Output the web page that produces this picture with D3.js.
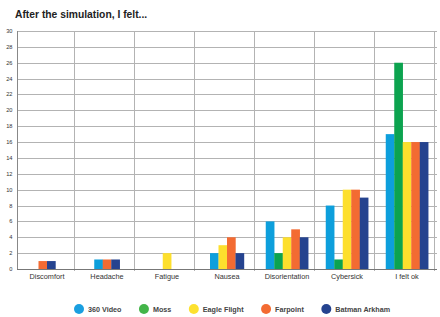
<!DOCTYPE html>
<html>
<head>
<meta charset="utf-8">
<script src="https://cdnjs.cloudflare.com/ajax/libs/d3/7.8.5/d3.min.js"></script>
<style>
  body { margin: 0; background: #fff; }
  svg { display: block; font-family: "Liberation Sans", Arial, sans-serif; }
</style>
</head>
<body>
<svg id="chart"></svg>
<script>
// symptoms reported after each VR experience
const categories = ['Discomfort', 'Headache', 'Fatigue', 'Nausea', 'Disorientation', 'Cybersick', 'I felt ok'];
const seriesNames = ['360 Video', 'Moss', 'Eagle Flight', 'Farpoint', 'Batman Arkham'];
const colors = ['#0d9fdc', '#0ca34f', '#fddf2d', '#f36b32', '#25438f'];
const legendColors = ['#1a9fe0', '#43b549', '#fde12f', '#f36b32', '#25438f'];

const video360 = [0, 1.2, 0, 2, 6, 8, 17];
const moss = [0, 0, 0, 0, 2, 1.2, 26];
const eagleFlight = [0, 0, 2, 3, 4, 10, 16];
const farpoint = [1, 1.2, 0, 4, 5, 10, 16];
const batman = [1, 1.2, 0, 2, 4, 9, 16];
const seriesValues = [video360, moss, eagleFlight, farpoint, batman];

const yTicks = d3.range(0, 31, 2);
const title = 'After the simulation, I felt...';

const width = 440, height = 317;
const margin = { top: 31, right: 3, bottom: 48, left: 17 };
const innerBottom = height - margin.bottom;

const svg = d3.select('#chart').attr('width', width).attr('height', height);

const x = d3.scaleBand()
    .domain(categories)
    .range([margin.left, width - margin.right])
    .padding(0);

const y = d3.scaleLinear()
    .domain([0, 30])
    .range([innerBottom, margin.top]);

// title
svg.append('text')
    .attr('x', 15)
    .attr('y', 17.5)
    .style('font-size', '10.3px')
    .style('font-weight', 'bold')
    .attr('fill', '#222')
    .text(title);

// horizontal grid
svg.append('g')
    .selectAll('line')
    .data(yTicks.filter(d => d > 0))
    .join('line')
    .attr('x1', margin.left)
    .attr('x2', width - margin.right)
    .attr('y1', d => Math.round(y(d)) + 0.5)
    .attr('y2', d => Math.round(y(d)) + 0.5)
    .attr('stroke', '#b3b3b3')
    .attr('stroke-width', 1);

// vertical separators (drawn slightly left of the band edges, like the original)
const sepShift = 3;
const separators = categories.slice(1).map(c => x(c) - sepShift).concat([x.range()[1] - sepShift]);
svg.append('g')
    .selectAll('line')
    .data(separators)
    .join('line')
    .attr('x1', d => Math.round(d) + 0.5)
    .attr('x2', d => Math.round(d) + 0.5)
    .attr('y1', y(30))
    .attr('y2', innerBottom + 2)
    .attr('stroke', '#b3b3b3')
    .attr('stroke-width', 1);

// y axis line
svg.append('line')
    .attr('x1', margin.left + 0.5)
    .attr('x2', margin.left + 0.5)
    .attr('y1', y(30))
    .attr('y2', innerBottom)
    .attr('stroke', '#888');

// y tick labels
svg.append('g')
    .selectAll('text')
    .data(yTicks)
    .join('text')
    .attr('x', 12.5)
    .attr('y', d => y(d) + 2)
    .attr('text-anchor', 'end')
    .style('font-size', '5.7px')
    .attr('fill', '#333')
    .text(d => d);

// bars: only non-zero values are drawn, centred in their category
const barWidth = 8.5;
const barData = [];
categories.forEach((c, ci) => {
    const present = seriesNames
        .map((s, si) => ({ cat: c, si: si, value: seriesValues[si][ci] }))
        .filter(d => d.value > 0);
    const start = x(c) + x.bandwidth() / 2 - present.length * barWidth / 2;
    present.forEach((d, k) => {
        d.x = start + k * barWidth;
        barData.push(d);
    });
});

svg.append('g')
    .selectAll('rect')
    .data(barData)
    .join('rect')
    .attr('x', d => d.x)
    .attr('width', barWidth + 0.2)
    .attr('y', d => y(d.value))
    .attr('height', d => innerBottom - y(d.value))
    .attr('fill', d => colors[d.si]);

// baseline
svg.append('line')
    .attr('x1', margin.left)
    .attr('x2', width - margin.right)
    .attr('y1', Math.round(innerBottom) + 0.5)
    .attr('y2', Math.round(innerBottom) + 0.5)
    .attr('stroke', '#777');

// category labels
svg.append('g')
    .selectAll('text')
    .data(categories)
    .join('text')
    .attr('x', d => x(d) + x.bandwidth() / 2)
    .attr('y', innerBottom + 10)
    .attr('text-anchor', 'middle')
    .style('font-size', '7.3px')
    .attr('fill', '#333')
    .text(d => d);

// legend
const legend = svg.append('g');
let lx = 79;
const ly = 309;
seriesNames.forEach((name, i) => {
    legend.append('circle')
        .attr('cx', lx)
        .attr('cy', ly)
        .attr('r', 5)
        .attr('fill', legendColors[i]);
    const t = legend.append('text')
        .attr('x', lx + 9)
        .attr('y', ly + 2.5)
        .style('font-size', '7.2px')
        .style('font-weight', 'bold')
        .attr('fill', '#444')
        .text(name);
    lx = lx + 9 + t.node().getComputedTextLength() + 22.5;
});
</script>
</body>
</html>
